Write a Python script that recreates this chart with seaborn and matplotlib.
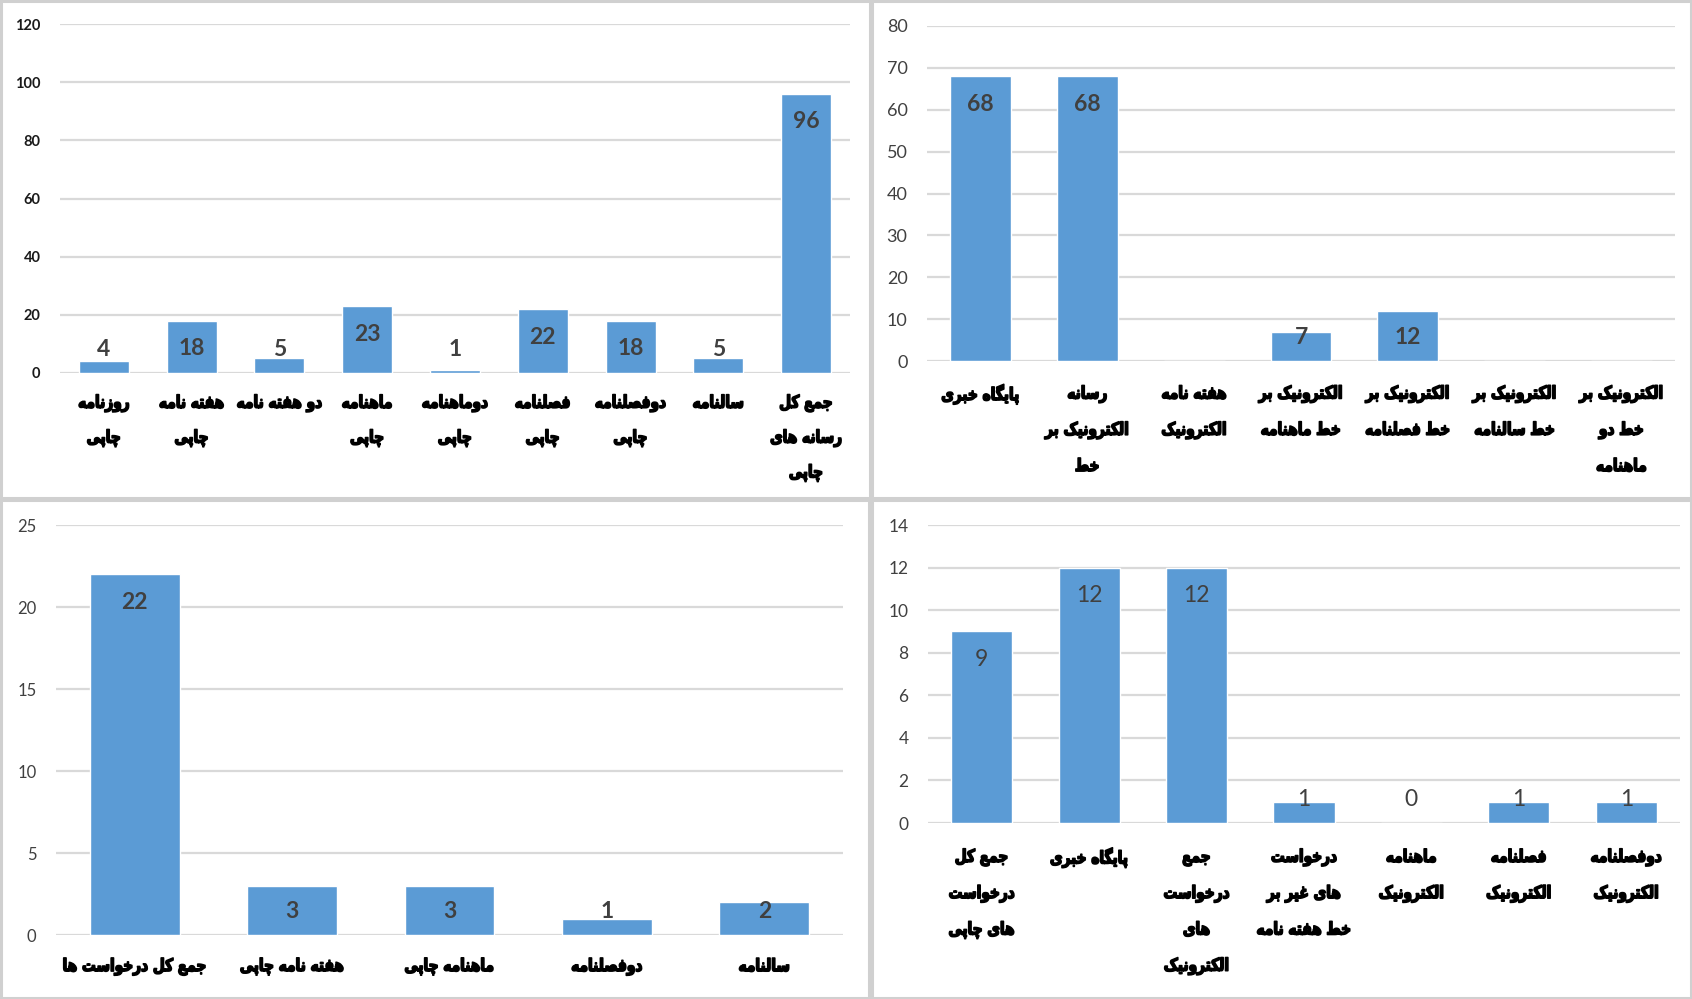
import seaborn as sns
import matplotlib.pyplot as plt
import matplotlib.patheffects as pe
from matplotlib.patches import Rectangle
from matplotlib.transforms import Affine2D

# ---- data ----
tl_labels = ['روزنامه\nچاپی', 'هفته نامه\nچاپی', 'دو هفته نامه', 'ماهنامه\nچاپی',
             'دوماهنامه\nچاپی', 'فصلنامه\nچاپی', 'دوفصلنامه\nچاپی', 'سالنامه',
             'جمع کل\nرسانه های\nچاپی']
tl_values = [4, 18, 5, 23, 1, 22, 18, 5, 96]

tr_labels = ['پایگاه خبری', 'رسانه\nالکترونیک بر\nخط', 'هفته نامه\nالکترونیک',
             'الکترونیک بر\nخط ماهنامه', 'الکترونیک بر\nخط فصلنامه',
             'الکترونیک بر\nخط سالنامه', 'الکترونیک بر\nخط دو\nماهنامه']
tr_values = [68, 68, 0, 7, 12, 0, 0]

bl_labels = ['جمع کل درخواست ها', 'هفته نامه چاپی', 'ماهنامه چاپی', 'دوفصلنامه', 'سالنامه']
bl_values = [22, 3, 3, 1, 2]

br_labels = ['جمع کل\nدرخواست\nهای چاپی', 'پایگاه خبری', 'جمع\nدرخواست\nهای\nالکترونیک',
             'درخواست\nهای غیر بر\nخط هفته نامه', 'ماهنامه\nالکترونیک',
             'فصلنامه\nالکترونیک', 'دوفصلنامه\nالکترونیک']
br_values = [9, 12, 12, 1, 0, 1, 1]

# ---- tiny persian shaper (matplotlib does no arabic shaping / bidi) ----
# iso, fin, ini, med  (None = letter only joins to the right)
FORMS = {
    'ا': (0xFE8D, 0xFE8E, None, None), 'آ': (0xFE81, 0xFE82, None, None),
    'ب': (0xFE8F, 0xFE90, 0xFE91, 0xFE92), 'پ': (0xFB56, 0xFB57, 0xFB58, 0xFB59),
    'ت': (0xFE95, 0xFE96, 0xFE97, 0xFE98), 'ث': (0xFE99, 0xFE9A, 0xFE9B, 0xFE9C),
    'ج': (0xFE9D, 0xFE9E, 0xFE9F, 0xFEA0), 'چ': (0xFB7A, 0xFB7B, 0xFB7C, 0xFB7D),
    'ح': (0xFEA1, 0xFEA2, 0xFEA3, 0xFEA4), 'خ': (0xFEA5, 0xFEA6, 0xFEA7, 0xFEA8),
    'د': (0xFEA9, 0xFEAA, None, None), 'ذ': (0xFEAB, 0xFEAC, None, None),
    'ر': (0xFEAD, 0xFEAE, None, None), 'ز': (0xFEAF, 0xFEB0, None, None),
    'ژ': (0xFB8A, 0xFB8B, None, None),
    'س': (0xFEB1, 0xFEB2, 0xFEB3, 0xFEB4), 'ش': (0xFEB5, 0xFEB6, 0xFEB7, 0xFEB8),
    'ص': (0xFEB9, 0xFEBA, 0xFEBB, 0xFEBC), 'ض': (0xFEBD, 0xFEBE, 0xFEBF, 0xFEC0),
    'ط': (0xFEC1, 0xFEC2, 0xFEC3, 0xFEC4), 'ظ': (0xFEC5, 0xFEC6, 0xFEC7, 0xFEC8),
    'ع': (0xFEC9, 0xFECA, 0xFECB, 0xFECC), 'غ': (0xFECD, 0xFECE, 0xFECF, 0xFED0),
    'ف': (0xFED1, 0xFED2, 0xFED3, 0xFED4), 'ق': (0xFED5, 0xFED6, 0xFED7, 0xFED8),
    'ک': (0xFB8E, 0xFB8F, 0xFB90, 0xFB91), 'گ': (0xFB92, 0xFB93, 0xFB94, 0xFB95),
    'ل': (0xFEDD, 0xFEDE, 0xFEDF, 0xFEE0), 'م': (0xFEE1, 0xFEE2, 0xFEE3, 0xFEE4),
    'ن': (0xFEE5, 0xFEE6, 0xFEE7, 0xFEE8), 'و': (0xFEED, 0xFEEE, None, None),
    'ه': (0xFEE9, 0xFEEA, 0xFEEB, 0xFEEC), 'ی': (0xFBFC, 0xFBFD, 0xFBFE, 0xFBFF),
}


def shape_line(s):
    out = []
    for i, c in enumerate(s):
        if c not in FORMS:
            out.append(c)
            continue
        iso, fin, ini, med = FORMS[c]
        prev = s[i - 1] if i > 0 else ''
        nxt = s[i + 1] if i + 1 < len(s) else ''
        jp = prev in FORMS and FORMS[prev][2] is not None
        jn = ini is not None and nxt in FORMS
        if jp and jn:
            g = med
        elif jp:
            g = fin
        elif jn:
            g = ini
        else:
            g = iso
        out.append(chr(g))
    return ''.join(reversed(out))


def fa(text):
    return '\n'.join(shape_line(l) for l in text.split('\n'))


class Condensed(pe.AbstractPathEffect):
    """squeeze each text line horizontally about its centre and thicken it"""

    def __init__(self, sx=0.75, lw=0.8):
        super().__init__()
        self.sx = sx
        self.lw = lw

    def draw_path(self, renderer, gc, tpath, affine, rgbFace=None):
        bb = tpath.get_extents(affine)
        cx = (bb.x0 + bb.x1) / 2
        aff = affine + Affine2D().translate(-cx, 0).scale(self.sx, 1).translate(cx, 0)
        gc0 = renderer.new_gc()
        gc0.copy_properties(gc)
        gc0.set_foreground('black')
        gc0.set_linewidth(self.lw)
        renderer.draw_path(gc0, tpath, aff, rgbFace)
        gc0.restore()


sns.set_theme(style='white')
plt.rcParams['font.family'] = ['Lato', 'DejaVu Sans']

W, H = 1692, 999
fig = plt.figure(figsize=(W / 100, H / 100), dpi=100)
BLUE = '#5b9bd5'


def px_axes(x0, y0, x1, y1):
    return fig.add_axes([x0 / W, 1 - y1 / H, (x1 - x0) / W, (y1 - y0) / H])


def draw_panel(box, labels, values, ymax, step, tick_size, tick_bold, val_bold,
               show_zero, lab_pad, lsp):
    ax = px_axes(*box)
    shaped = [fa(l) for l in labels]
    sns.barplot(x=shaped, y=values, color=BLUE, saturation=1, width=0.57, ax=ax)
    ax.set_xlim(-0.5, len(values) - 0.5)
    ax.set_ylim(0, ymax)
    ax.set_yticks(range(0, ymax + 1, step))
    ax.yaxis.grid(True, color='#d9d9d9', lw=1.6)
    ax.set_axisbelow(True)
    for s in ax.spines.values():
        s.set_visible(False)
    ax.tick_params(axis='both', length=0)
    ax.tick_params(axis='y', pad=14)
    ax.tick_params(axis='x', pad=lab_pad)
    ax.set_xlabel('')
    ax.set_ylabel('')
    for t in ax.get_yticklabels():
        t.set_fontsize(tick_size)
        t.set_fontweight('bold' if tick_bold else 'normal')
        t.set_color('#1a1a1a' if tick_bold else '#404040')
        t.set_family(['Lato'])
    ax.set_xticks(range(len(values)))
    ax.set_xticklabels(shaped, fontsize=12.5, fontweight='bold', color='black',
                       family=['DejaVu Sans'], linespacing=lsp, va='top')
    for t in ax.get_xticklabels():
        t.set_path_effects([Condensed(0.79, 1.15)])

    ppu = (box[3] - box[1]) / ymax  # pixels per data unit
    for i, v in enumerate(values):
        if v == 0 and not show_zero:
            continue
        y = max(v - 28 / ppu, 24 / ppu)
        ax.text(i, y, str(v), ha='center', va='center', fontsize=16.5,
                fontweight='bold' if val_bold else 'normal', color='#404040',
                family=['Lato'])
    return ax


draw_panel((60, 24, 850, 373), tl_labels, tl_values, 120, 20, 10.5, True, True, True, 15, 2.2)
draw_panel((927, 26, 1675, 361), tr_labels, tr_values, 80, 10, 13, False, True, False, 17, 2.3)
draw_panel((56, 525, 843, 935), bl_labels, bl_values, 25, 5, 12, False, True, True, 16, 2.3)
draw_panel((928, 525, 1680, 823), br_labels, br_values, 14, 2, 12.5, False, False, True, 18, 2.3)

# panel frames
for x0, y0, x1, y1 in [(1, 1, 870, 498), (872, 1, 1691, 498),
                       (1, 500, 869, 998), (872, 500, 1691, 998)]:
    fig.add_artist(Rectangle((x0 / W, 1 - y1 / H), (x1 - x0) / W, (y1 - y0) / H,
                             transform=fig.transFigure, fill=False,
                             ec='#d0d0d0', lw=2.2))

fig.savefig('out.png', dpi=100)
